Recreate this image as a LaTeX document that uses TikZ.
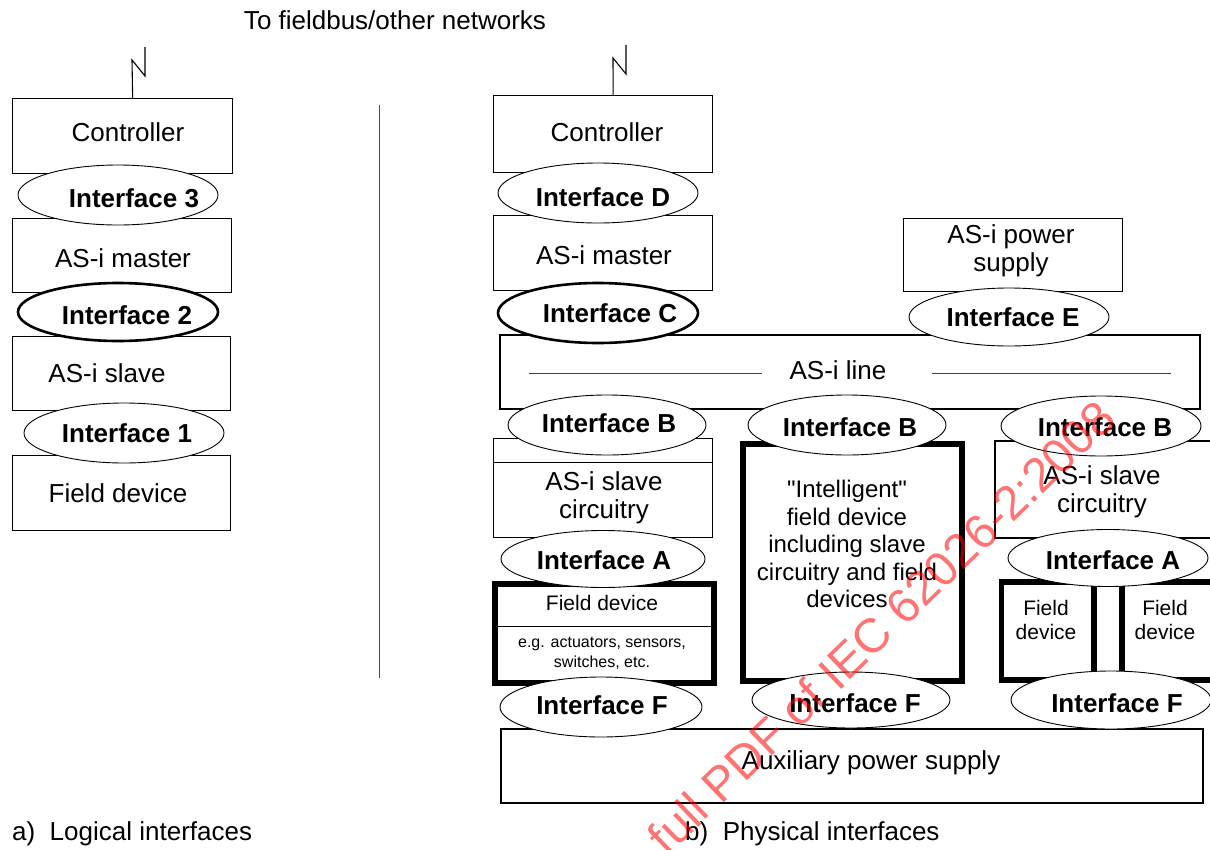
\documentclass[tikz,border=0pt]{standalone}
\usepackage{fontspec}
\setmainfont[Ligatures=TeXOff]{Liberation Sans}
\usetikzlibrary{shapes.geometric}
\begin{document}
\begin{tikzpicture}[x=1pt,y=-1pt,
  box/.style={draw, line width=1.3pt, rectangle, inner sep=0pt, anchor=north west},
  heavybox/.style={draw, line width=5.5pt, rectangle, inner sep=0pt, anchor=north west},
  iface/.style={draw, ellipse, line width=0.9pt, fill=white, inner sep=0pt},
  ifacebold/.style={iface, line width=2.6pt},
  lbl/.style={font=\fontsize{26}{28}\selectfont, align=center, inner sep=0pt},
  mid/.style={font=\fontsize{24}{27.5}\selectfont, align=center, inner sep=0pt},
  sml/.style={font=\fontsize{21}{24}\selectfont, align=center, inner sep=0pt},
  tiny/.style={font=\fontsize{16}{20}\selectfont, align=center, inner sep=0pt},
  bl/.style={font=\fontsize{26}{28}\bfseries\selectfont, inner sep=0pt},
  wire/.style={line width=1.1pt},
]
\useasboundingbox[fill=white] (0,0) rectangle (1210,849);

% ---------- title
\node[lbl] (title) at (395,20) {To fieldbus/other networks};

% ---------- a) logical interfaces
\node[box, minimum width=220pt, minimum height=75pt] (ctrlL) at (12,98) {};
\node[box, minimum width=219pt, minimum height=74pt] (masterL) at (12,218) {};
\node[box, minimum width=218pt, minimum height=74pt] (slaveL) at (12,336) {};
\node[box, minimum width=218pt, minimum height=75pt] (fieldL) at (12,455) {};

\node[iface, minimum width=200pt, minimum height=60pt] (if3) at (118,195) {};
\node[ifacebold, minimum width=200pt, minimum height=58pt] (if2) at (118,312) {};
\node[iface, minimum width=200pt, minimum height=60pt] (if1) at (124,433) {};

\node[lbl] (tctrlL) at (128,132) {Controller};
\node[lbl] (tmasterL) at (123,258) {AS-i master};
\node[lbl] (tslaveL) at (107,373) {AS-i slave};
\node[lbl] (tfieldL) at (118,493) {Field device};
\node[bl] (tif3) at (134,198) {Interface 3};
\node[bl] (tif2) at (127,315) {Interface 2};
\node[bl] (tif1) at (127,433) {Interface 1};

\coordinate (antL) at (145,47);
\draw[wire] (antL) -- (145,76) -- (132,60) -- ([xshift=10pt]ctrlL.north);

% separator
\coordinate (sepT) at (379,105);
\coordinate (sepB) at (379,678);
\draw[line width=1pt, black!70] (sepT) -- (sepB);

% ---------- b) physical interfaces
\node[box, minimum width=219pt, minimum height=77pt] (ctrlR) at (493,95) {};
\node[box, minimum width=219pt, minimum height=75pt] (masterR) at (493,215) {};
\node[box, minimum width=219pt, minimum height=73pt] (power) at (903,218) {};
\node[box, minimum width=700pt, minimum height=74pt, line width=1.6pt] (line) at (499,334) {};
\node[box, minimum width=219pt, minimum height=99pt] (slave1) at (493,438) {};
\draw[line width=1pt] (slave1.west |- 0,462) -- (slave1.east |- 0,462);
\node[heavybox, minimum width=219pt, minimum height=237pt] (intel) at (740,441) {};
% right slave circuitry (runs past the right edge)
\node[inner sep=0pt, minimum width=230pt, minimum height=97pt, anchor=north west] (slave2) at (995,441) {};
\draw[line width=1.3pt] (1212,441) -| (995,538) -- (1212,538);
\node[heavybox, minimum width=219pt, minimum height=99pt] (field1) at (492,581) {};
\draw[line width=1pt] (field1.west |- 0,626) -- (field1.east |- 0,626);
% right pair of field devices
\node[inner sep=0pt, minimum width=220pt, minimum height=98pt, anchor=north west] (field2) at (1001.5,582) {};
\draw[line width=5.5pt] (1214,582) -| (1001.5,680) -- (1214,680);
\draw[line width=5.5pt] (1094,582) -- (1094,680);
\draw[line width=5.5pt] (1122,582) -- (1122,680);
\node[box, minimum width=702pt, minimum height=74pt, line width=1.6pt] (aux) at (500,728) {};

% AS-i line strokes
\draw[line width=1pt, black!75] (529,373) -- (762,373);
\draw[line width=1pt, black!75] (932,373) -- (1171,373);

% interface ellipses
\node[iface, minimum width=200pt, minimum height=60pt] (ifD) at (598,193) {};
\node[ifacebold, minimum width=200pt, minimum height=60pt] (ifC) at (598,313) {};
\node[iface, minimum width=200pt, minimum height=58pt] (ifE) at (1009,317) {};
\node[iface, minimum width=198pt, minimum height=60pt] (ifB1) at (607,425) {};
\node[iface, minimum width=198pt, minimum height=60pt] (ifB2) at (847,425) {};
\node[iface, minimum width=200pt, minimum height=60pt] (ifB3) at (1101,426) {};
\node[iface, minimum width=204pt, minimum height=57pt] (ifA1) at (603,559) {};
\node[iface, minimum width=200pt, minimum height=57pt] (ifA2) at (1108,558) {};
\node[iface, minimum width=202pt, minimum height=60pt] (ifF1) at (601,707) {};
\node[iface, minimum width=198pt, minimum height=56pt] (ifF2) at (851,700) {};
\node[iface, minimum width=200pt, minimum height=58pt] (ifF3) at (1111,700) {};

\coordinate (antR) at (626,45);
\draw[wire] (antR) -- (626,74) -- (613,58) -- ([xshift=10pt]ctrlR.north);

% texts
\node[lbl] (tctrlR) at (607,132) {Controller};
\node[lbl] (tmasterR) at (604,255) {AS-i master};
\node[lbl] (tpower) at (1011,251) {AS-i power\\supply};
\node[lbl] (tline) at (838,370) {AS-i line};
\node[lbl] (tslave1) at (604,498) {AS-i slave\\circuitry};
\node[lbl] (tslave2) at (1102,492) {AS-i slave\\circuitry};
\node[mid] (tintel) at (847,544) {"Intelligent"\\field device\\including slave\\circuitry and field\\devices};
\node[sml] (tfield1) at (602,603) {Field device};
\node[tiny] (teg) at (602,653) {e.g. actuators, sensors,\\switches, etc.};
\node[sml, font=\fontsize{21}{24.5}\selectfont] (tfield2a) at (1046,620) {Field\\device};
\node[sml, font=\fontsize{21}{24.5}\selectfont] (tfield2b) at (1165,620) {Field\\device};
\node[lbl] (taux) at (871,763) {Auxiliary power supply};

\node[bl] (tifD) at (603,197) {Interface D};
\node[bl] (tifC) at (610,313) {Interface C};
\node[bl] (tifE) at (1013,317) {Interface E};
\node[bl] (tifB1) at (609,423) {Interface B};
\node[bl] (tifB2) at (850,427) {Interface B};
\node[bl] (tifB3) at (1105,427) {Interface B};
\node[bl] (tifA1) at (604,560) {Interface A};
\node[bl] (tifA2) at (1113,560) {Interface A};
\node[bl] (tifF1) at (602,705) {Interface F};
\node[bl] (tifF2) at (855,703) {Interface F};
\node[bl] (tifF3) at (1117,703) {Interface F};

% captions
\node[lbl, anchor=west] (capA) at (12,834) {a)\ \ Logical interfaces};
\node[lbl, anchor=west] (capB) at (685,834) {b)\ \ Physical interfaces};

% watermark
\node[font=\fontsize{48}{48}\selectfont, text=red, opacity=0.55, rotate=44, inner sep=0pt] (wm) at (881,627) {full PDF of IEC 62026-2:2008};
\end{tikzpicture}
\end{document}
